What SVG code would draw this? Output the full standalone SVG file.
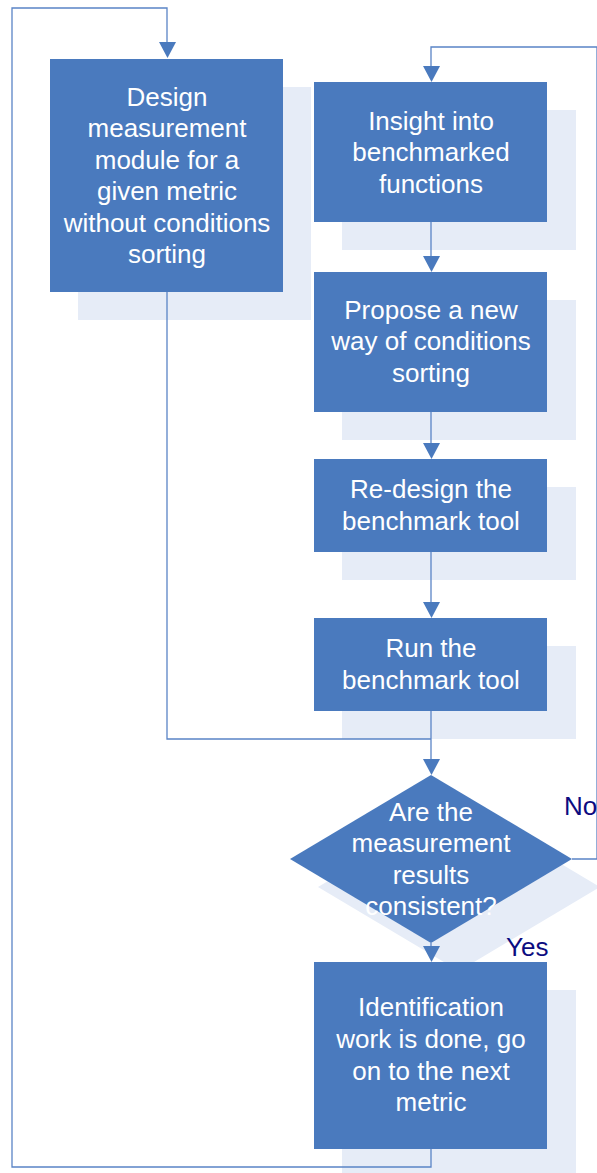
<svg xmlns="http://www.w3.org/2000/svg" width="597" height="1173" viewBox="0 0 597 1173">
<style>
.sh{fill:#e6ecf7}
.bx{fill:#4a7abe}
.t{font-family:"Liberation Sans",Arial,sans-serif;font-size:26px;fill:#ffffff;text-anchor:middle}
.lb{font-family:"Liberation Sans",Arial,sans-serif;font-size:26px;fill:#0c0c80}
.c{fill:none;stroke:#5a84c6;stroke-width:1.3}
.ah{fill:#4a7abe}
</style>
<g id="shadows">
<rect class="sh" x="78" y="87" width="233" height="233"/>
<rect class="sh" x="342" y="110" width="234" height="140"/>
<rect class="sh" x="342" y="300" width="234" height="140"/>
<rect class="sh" x="342" y="487" width="234" height="93"/>
<rect class="sh" x="342" y="646" width="234" height="93"/>
<polygon class="sh" points="459,803 600,887 459,971 318,887"/>
<rect class="sh" x="342" y="990" width="234" height="183"/>
</g>
<g id="connectors">
<path class="c" d="M431,1149 V1167 H12 V8 H167 V42"/>
<path class="c" d="M167,292 V739 H431"/>
<path class="c" d="M431,711 V759"/>
<path class="c" d="M431,222 V256"/>
<path class="c" d="M431,412 V443"/>
<path class="c" d="M431,552 V602"/>
<path class="c" d="M431,943 V946"/>
<path class="c" d="M572,859 H597 V47 H431 V66"/>
<polygon class="ah" points="159,42 176,42 167.5,58"/>
<polygon class="ah" points="423,759 440,759 431.5,775"/>
<polygon class="ah" points="423,256 440,256 431.5,272"/>
<polygon class="ah" points="423,443 440,443 431.5,459"/>
<polygon class="ah" points="423,602 440,602 431.5,618"/>
<polygon class="ah" points="423,946 440,946 431.5,962"/>
<polygon class="ah" points="423,66 440,66 431.5,82"/>
</g>
<g id="n1">
<rect class="bx" x="50" y="59" width="233" height="233"/>
<text class="t" x="167" y="106">Design</text>
<text class="t" x="167" y="137">measurement</text>
<text class="t" x="167" y="169">module for a</text>
<text class="t" x="167" y="200">given metric</text>
<text class="t" x="167" y="232">without conditions</text>
<text class="t" x="167" y="263">sorting</text>
</g>
<g id="n2">
<rect class="bx" x="314" y="82" width="233" height="140"/>
<text class="t" x="431" y="130">Insight into</text>
<text class="t" x="431" y="161">benchmarked</text>
<text class="t" x="431" y="193">functions</text>
</g>
<g id="n3">
<rect class="bx" x="314" y="272" width="233" height="140"/>
<text class="t" x="431" y="319">Propose a new</text>
<text class="t" x="431" y="350">way of conditions</text>
<text class="t" x="431" y="382">sorting</text>
</g>
<g id="n4">
<rect class="bx" x="314" y="459" width="233" height="93"/>
<text class="t" x="431" y="498">Re-design the</text>
<text class="t" x="431" y="530">benchmark tool</text>
</g>
<g id="n5">
<rect class="bx" x="314" y="618" width="233" height="93"/>
<text class="t" x="431" y="657">Run the</text>
<text class="t" x="431" y="689">benchmark tool</text>
</g>
<g id="d1">
<polygon class="bx" points="431,775 572,859 431,943 290,859"/>
<text class="t" x="431" y="821">Are the</text>
<text class="t" x="431" y="852">measurement</text>
<text class="t" x="431" y="884">results</text>
<text class="t" x="431" y="915">consistent?</text>
</g>
<g id="n6">
<rect class="bx" x="314" y="962" width="233" height="187"/>
<text class="t" x="431" y="1016">Identification</text>
<text class="t" x="431" y="1048">work is done, go</text>
<text class="t" x="431" y="1080">on to the next</text>
<text class="t" x="431" y="1111">metric</text>
</g>
<g id="labels">
<text class="lb" x="564" y="815">No</text>
<text class="lb" x="506" y="956">Yes</text>
</g>
</svg>
